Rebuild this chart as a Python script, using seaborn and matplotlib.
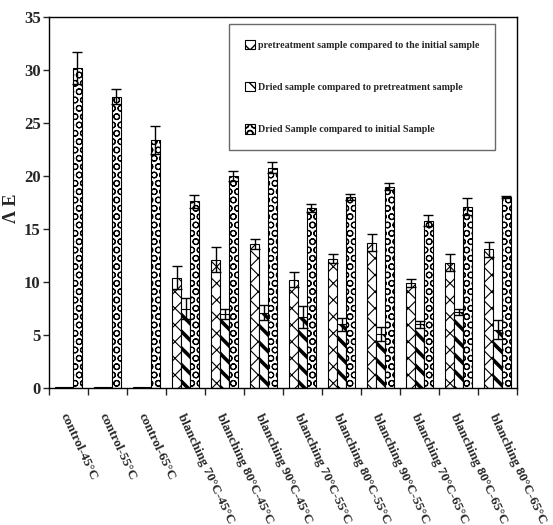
import matplotlib
matplotlib.use('Agg')
import matplotlib.pyplot as plt
from matplotlib.patches import Patch
import seaborn as sns
import pandas as pd
import numpy as np

categories = ["control-45°C", "control-55°C", "control-65°C",
              "blanching 70°C-45°C", "blanching 80°C-45°C", "blanching 90°C-45°C",
              "blanching 70°C-55°C", "blanching 80°C-55°C", "blanching 90°C-55°C",
              "blanching 70°C-65°C", "blanching 80°C-65°C", "blanching 80°C-65°C"]
series = ["pretreatment sample compared to the initial sample",
          "Dried sample compared to pretreatment sample",
          "Dried Sample compared to initial Sample"]

pre_vs_initial = [0.05, 0.05, 0.05, 10.4, 12.1, 13.6, 10.2, 12.2, 13.7, 9.9, 11.8, 13.1]
pre_vs_initial_err = [0, 0, 0, 1.1, 1.2, 0.5, 0.7, 0.4, 0.8, 0.4, 0.8, 0.7]
dried_vs_pre = [0.05, 0.05, 0.05, 7.5, 7.0, 7.1, 6.7, 6.0, 5.1, 6.0, 7.2, 5.5]
dried_vs_pre_err = [0, 0, 0, 1.0, 0.5, 0.7, 1.0, 0.6, 0.7, 0.3, 0.3, 0.9]
dried_vs_initial = [30.2, 27.5, 23.4, 17.6, 20.0, 20.8, 17.0, 18.0, 19.0, 15.8, 17.1, 18.0]
dried_vs_initial_err = [1.5, 0.7, 1.3, 0.6, 0.5, 0.5, 0.4, 0.3, 0.3, 0.5, 0.8, 0.1]

values = [pre_vs_initial, dried_vs_pre, dried_vs_initial]
errors = [pre_vs_initial_err, dried_vs_pre_err, dried_vs_initial_err]

rows = []
for s, vals in zip(series, values):
    for i, v in enumerate(vals):
        rows.append({"group": i, "series": s, "value": v})
df = pd.DataFrame(rows)

sns.set_style("white")
plt.rcParams['font.family'] = ['Liberation Serif', 'DejaVu Serif']
plt.rcParams['font.weight'] = 'bold'
plt.rcParams['hatch.color'] = 'black'
plt.rcParams['hatch.linewidth'] = 1.0

fig = plt.figure(figsize=(5.53, 5.25), dpi=100)
ax = fig.add_axes([49/553, 1-388/525, (517-49)/553, (388-17)/525])

sns.barplot(data=df, x="group", y="value", hue="series", hue_order=series,
            order=list(range(len(categories))), width=0.67, errorbar=None,
            palette=['white'] * 3, edgecolor='black', linewidth=0.8,
            ax=ax, legend=False)

hatches = ['xx', '\\\\', 'OO']
hatch_lw = [0.8, 2.6, 0.8]
bar_containers = list(ax.containers)
for ci, cont in enumerate(bar_containers):
    for bar, v, e in zip(cont, values[ci], errors[ci]):
        bar.set_edgecolor('black')
        bar.set_hatch(hatches[ci])
        if hasattr(bar, 'set_hatch_linewidth'):
            bar.set_hatch_linewidth(hatch_lw[ci])
        if e > 0:
            ax.errorbar(bar.get_x() + bar.get_width() / 2, v, yerr=e,
                        fmt='none', ecolor='black', elinewidth=1.0,
                        capsize=3.5, capthick=1.0, zorder=5)

ax.set_ylim(0, 35)
ax.set_xlim(-0.5, len(categories) - 0.5)
ax.set_yticks(range(0, 36, 5))
ax.tick_params(axis='y', direction='out', length=4, width=1, labelsize=12, left=True, pad=2)
ax.set_xticks(range(len(categories)))
ax.set_xticklabels(categories, rotation=-65, ha='left', va='top',
                   rotation_mode='anchor', fontsize=9.5)
ax.tick_params(axis='x', which='major', length=0, pad=17)
ax.set_xticks(np.arange(-0.5, len(categories), 1), minor=True)
ax.tick_params(axis='x', which='minor', direction='out', length=5, width=1, bottom=True)
ax.set_xlabel("")
ax.set_ylabel("Λ E", fontsize=13, fontweight='bold')
ax.yaxis.set_label_coords(-0.062, 0.485)
for sp in ax.spines.values():
    sp.set_visible(True)
    sp.set_color('black')
    sp.set_linewidth(1.0)

handles = []
for ci in range(3):
    p = Patch(facecolor='white', edgecolor='black', hatch=hatches[ci], linewidth=0.8)
    handles.append(p)
leg = ax.legend(handles, series, loc='upper right', bbox_to_anchor=(0.953, 0.982),
                frameon=True, fancybox=False, edgecolor='#444444', fontsize=7.2,
                labelspacing=3.2, handlelength=1.0, handleheight=1.1, handletextpad=0.3,
                borderpad=1.6, borderaxespad=0)
leg.get_frame().set_linewidth(1.0)
for t in leg.get_texts():
    t.set_fontweight('bold')

fig.savefig("out.png", dpi=100)
